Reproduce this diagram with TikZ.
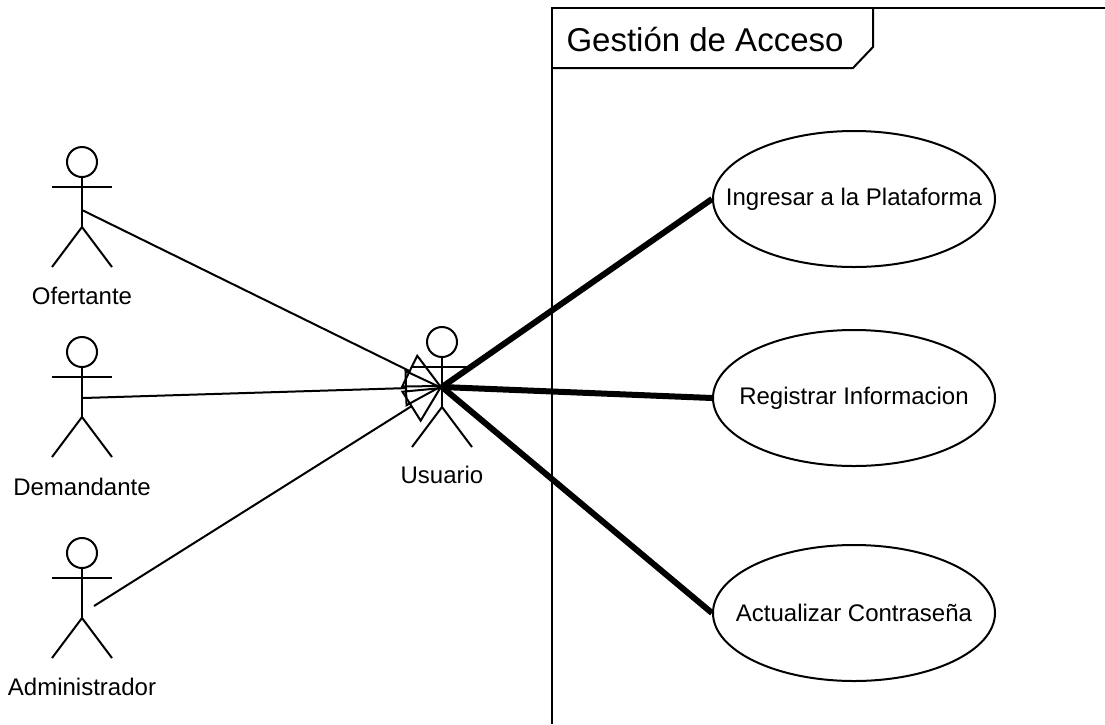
\documentclass[tikz,border=0pt]{standalone}
\usepackage{fontspec}
\setmainfont{Liberation Sans}
\usetikzlibrary{arrows.meta,shapes.geometric}
\tikzset{
  actorpic/.pic={
    \draw (0,15) circle[radius=15pt];
    \draw (-30,40) -- (30,40);
    \draw (0,30) -- (0,80);
    \draw (-30,120) -- (0,80) -- (30,120);
  },
  lbl/.style={font=\fontsize{24}{28}\selectfont, inner sep=0pt},
  usecase/.style={draw, ellipse, line width=2pt, minimum width=282pt, minimum height=136pt, inner sep=0pt},
  gen/.style={line width=2pt, -{Triangle[open,length=37pt,width=37pt,line width=2pt]}},
  assoc/.style={line width=6pt},
  framebox/.style={line width=2pt}
}
\begin{document}
\begin{tikzpicture}[x=1pt,y=-1pt,line width=2pt,line join=miter]
\useasboundingbox (0,0) rectangle (1105,724);
% frame
\draw[framebox] (1105,8) -- (552,8) -- (552,724);
\draw[framebox] (552,68) -- (853,68) -- (873,47) -- (873,8);
\node[font=\fontsize{33}{39}\selectfont, inner sep=0pt] (title) at (705,40) {Gestión de Acceso};
% actors
\pic at (82,147) {actorpic};
\pic at (82,337) {actorpic};
\pic at (82,538) {actorpic};
\pic at (442,327) {actorpic};
\node[lbl] (lofe) at (82,296) {Ofertante};
\node[lbl] (ldem) at (82,487) {Demandante};
\node[lbl] (ladm) at (82,687) {Administrador};
\node[lbl] (lusu) at (442,475) {Usuario};
\coordinate (ofe) at (82,210);
\coordinate (dem) at (83,398);
\coordinate (adm) at (94,606);
\coordinate (usu) at (442,387);
% use cases
\node[usecase] (ing) at (854,199) {};
\node[usecase] (reg) at (854,398) {};
\node[usecase] (act) at (854,613) {};
\node[lbl] (ting) at (ing.center) {Ingresar a la Plataforma};
\node[lbl] (treg) at (reg.center) {Registrar Informacion};
\node[lbl] (tact) at (act.center) {Actualizar Contraseña};
% generalizations
\draw[gen] (ofe) -- (usu);
\draw[gen] (dem) -- (usu);
\draw[gen] (adm) -- (usu);
% associations
\draw[assoc] (usu) -- (ing.west);
\draw[assoc] (usu) -- (reg.west);
\draw[assoc] (usu) -- (act.west);
\end{tikzpicture}
\end{document}
